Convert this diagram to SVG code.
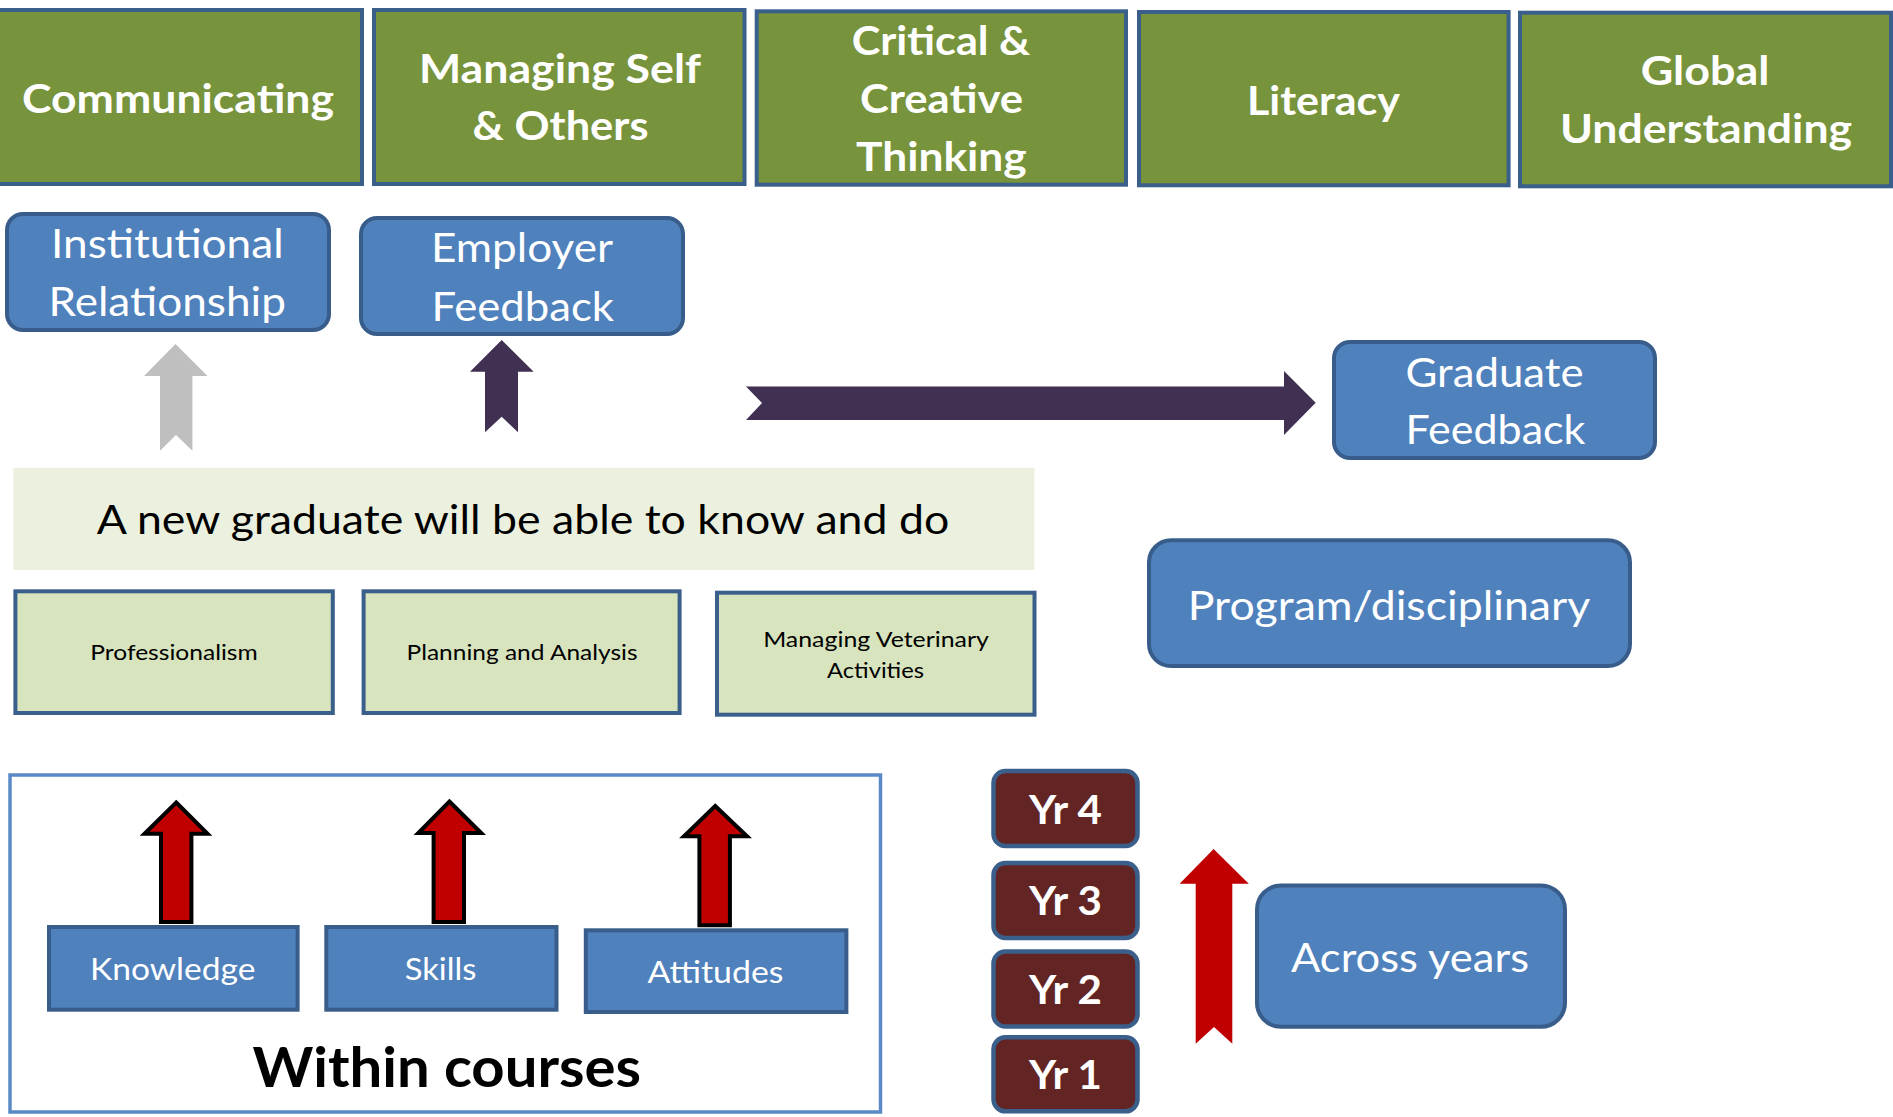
<svg xmlns="http://www.w3.org/2000/svg" width="1893" height="1117" viewBox="0 0 1893 1117">
<style>
text{font-family:Lato,"Open Sans","Liberation Sans",sans-serif;text-anchor:middle}
.g rect{fill:#77933C;stroke:#3A5F8B;stroke-width:4}
.g text{fill:#fff;font-weight:bold;font-size:41px}
.b rect{fill:#4F81BD;stroke:#385D8A;stroke-width:4}
.b text{fill:#fff;font-size:41px}
.lg rect{fill:#D7E4BD;stroke:#3A5F8B;stroke-width:4}
.lg text{fill:#000;font-size:22px}
.kb rect{fill:#4F81BD;stroke:#385D8A;stroke-width:4}
.kb text{fill:#fff;font-size:30px}
.yr rect{fill:#632523;stroke:#3A5F8B;stroke-width:4.5}
.yr text{fill:#fff;font-weight:bold;font-size:40px}
</style>
<rect width="1893" height="1117" fill="#fff"/>
<g id="communicating" class="g"><rect x="-3" y="10" width="365" height="174"/><text x="178" y="113.3" textLength="312" lengthAdjust="spacingAndGlyphs">Communicating</text></g>
<g id="managing-self" class="g"><rect x="374" y="10" width="370.5" height="174"/><text x="560" y="83.3" textLength="282" lengthAdjust="spacingAndGlyphs">Managing Self</text><text x="560.5" y="140" textLength="176" lengthAdjust="spacingAndGlyphs">&amp; Others</text></g>
<g id="critical" class="g"><rect x="756.7" y="11.3" width="369.3" height="173.4"/><text x="941" y="55" textLength="178.6" lengthAdjust="spacingAndGlyphs">Critical &amp;</text><text x="941.5" y="113.3" textLength="163" lengthAdjust="spacingAndGlyphs">Creative</text><text x="941.4" y="170.7" textLength="170.6" lengthAdjust="spacingAndGlyphs">Thinking</text></g>
<g id="literacy" class="g"><rect x="1139" y="12" width="369.6" height="173.3"/><text x="1323.5" y="115" textLength="153" lengthAdjust="spacingAndGlyphs">Literacy</text></g>
<g id="global" class="g"><rect x="1520" y="12.7" width="371" height="173.6"/><text x="1705" y="85" textLength="128.7" lengthAdjust="spacingAndGlyphs">Global</text><text x="1706" y="143.3" textLength="292" lengthAdjust="spacingAndGlyphs">Understanding</text></g>
<g id="institutional" class="b"><rect x="7" y="214" width="322" height="116" rx="16"/><text x="167.3" y="258.3" textLength="232.6" lengthAdjust="spacingAndGlyphs">Institutional</text><text x="167.2" y="316" textLength="237.5" lengthAdjust="spacingAndGlyphs">Relationship</text></g>
<g id="employer" class="b"><rect x="361" y="218" width="322" height="116" rx="16"/><text x="522" y="261.7" textLength="182" lengthAdjust="spacingAndGlyphs">Employer</text><text x="522.7" y="320.7" textLength="182.6" lengthAdjust="spacingAndGlyphs">Feedback</text></g>
<g id="graduate" class="b"><rect x="1334" y="342" width="321" height="116" rx="16"/><text x="1494.5" y="386.7" textLength="178" lengthAdjust="spacingAndGlyphs">Graduate</text><text x="1495.5" y="444.3" textLength="180" lengthAdjust="spacingAndGlyphs">Feedback</text></g>
<g id="banner"><rect x="13.4" y="467.7" width="1021" height="102.3" fill="#EBF1DE"/><text x="523" y="534" font-size="40.5" fill="#000" textLength="852.5" lengthAdjust="spacingAndGlyphs">A new graduate will be able to know and do</text></g>
<g id="professionalism" class="lg"><rect x="15.4" y="591.3" width="317.4" height="121.7"/><text x="174" y="660" textLength="167.4" lengthAdjust="spacingAndGlyphs">Professionalism</text></g>
<g id="planning" class="lg"><rect x="363.6" y="591.3" width="316" height="121.7"/><text x="522" y="660" textLength="231" lengthAdjust="spacingAndGlyphs">Planning and Analysis</text></g>
<g id="managing-vet" class="lg"><rect x="717" y="592.7" width="317.5" height="122"/><text x="876" y="646.7" textLength="225.7" lengthAdjust="spacingAndGlyphs">Managing Veterinary</text><text x="875.5" y="678.3" textLength="97" lengthAdjust="spacingAndGlyphs">Activities</text></g>
<g id="program" class="b"><rect x="1149" y="540.3" width="481" height="125.8" rx="22"/><text x="1389" y="620" font-size="43.5" textLength="402.6" lengthAdjust="spacingAndGlyphs">Program/disciplinary</text></g>
<g id="within-courses"><rect x="10" y="775" width="870.5" height="337" fill="#fff" stroke="#5A8AC6" stroke-width="3.5"/><text x="446.8" y="1086.7" font-size="56" font-weight="bold" fill="#000" textLength="388.4" lengthAdjust="spacingAndGlyphs">Within courses</text></g>
<g id="knowledge" class="kb"><rect x="49" y="927" width="248.6" height="82.7"/><text x="172.7" y="980" textLength="165.4" lengthAdjust="spacingAndGlyphs">Knowledge</text></g>
<g id="skills" class="kb"><rect x="326.3" y="927" width="230.2" height="82.7"/><text x="440.5" y="980" textLength="71.7" lengthAdjust="spacingAndGlyphs">Skills</text></g>
<g id="attitudes" class="kb"><rect x="585.8" y="930.3" width="260.6" height="81.7"/><text x="715.5" y="982.7" textLength="136" lengthAdjust="spacingAndGlyphs">Attitudes</text></g>
<g id="yr4" class="yr"><rect x="993.5" y="771" width="144" height="75" rx="12"/><text x="1065.5" y="823.5" textLength="73" lengthAdjust="spacingAndGlyphs">Yr 4</text></g>
<g id="yr3" class="yr"><rect x="993.5" y="863" width="144" height="75" rx="12"/><text x="1065.5" y="915" textLength="73" lengthAdjust="spacingAndGlyphs">Yr 3</text></g>
<g id="yr2" class="yr"><rect x="993.5" y="951.5" width="144" height="75" rx="12"/><text x="1065.5" y="1004" textLength="73" lengthAdjust="spacingAndGlyphs">Yr 2</text></g>
<g id="yr1" class="yr"><rect x="993.5" y="1037.3" width="144" height="74" rx="12"/><text x="1065.5" y="1088.7" textLength="73" lengthAdjust="spacingAndGlyphs">Yr 1</text></g>
<g id="across-years" class="b"><rect x="1257" y="885.4" width="308" height="141.4" rx="24"/><text x="1410" y="972.3" font-size="42.5" textLength="238" lengthAdjust="spacingAndGlyphs">Across years</text></g>
<g id="connectors">
<path d="M175.5,344 L207.5,376 L192.4,376 L192.4,450.7 L176,435 L160,450.7 L160,376 L144,376 Z" fill="#BFBFBF"/>
<path d="M501.7,340 L533.7,371.7 L518,371.7 L518,432.3 L501.7,416.7 L485,432.3 L485,371.7 L470,371.7 Z" fill="#403152"/>
<path d="M746,386.5 L1284,386.5 L1284,371 L1315.7,402.7 L1284,435 L1284,420 L746,420 L762,403 Z" fill="#403152"/>
<g fill="#C00000" stroke="#000" stroke-width="4" stroke-linejoin="miter">
<path d="M176.2,802.5 L207.5,833.7 L191.4,833.7 L191.4,922 L161,922 L161,833.7 L144.5,833.7 Z"/>
<path d="M449.4,801.5 L481.2,833 L464,833 L464,922 L433.6,922 L433.6,833 L418.3,833 Z"/>
<path d="M715.2,806 L747,836.3 L729.9,836.3 L729.9,925.3 L699.4,925.3 L699.4,836.3 L684,836.3 Z"/>
</g>
<path d="M1213.6,849 L1248.8,883.8 L1232.3,883.8 L1232.3,1043.7 L1214,1026.9 L1195.7,1043.7 L1195.7,883.8 L1179.6,883.8 Z" fill="#C00000"/>
</g>
</svg>
